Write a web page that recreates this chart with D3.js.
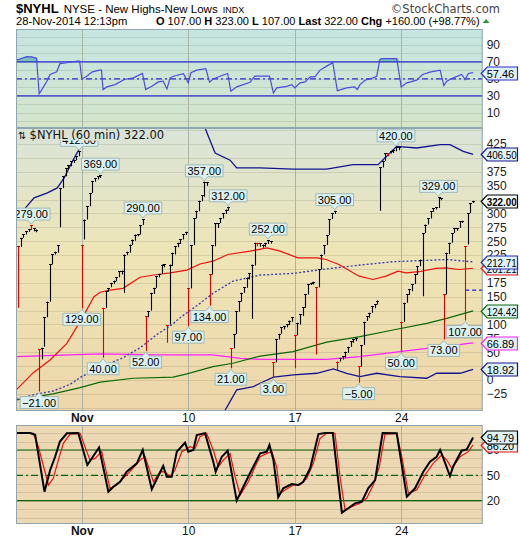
<!DOCTYPE html>
<html><head><meta charset="utf-8">
<script src="https://cdn.jsdelivr.net/npm/d3@7"></script>
<style>body{margin:0;background:#fff}svg{display:block}</style>
</head><body><svg id="c" width="520" height="540"></svg>
<script>
// ---------------- DATA ----------------
const tickIdx = [24, 64, 104, 144];
const tickText = ["Nov", "10", "17", "24"];
const mainTicks = [-25,0,25,50,75,100,125,150,175,200,225,250,275,300,325,350,375,400,425];
const rsiTicks = [10,30,50,70,90];
const stochTicks = [20,50,80];

const barLow = [
130,240,256,262,267,270,268,266,
-21,37,60,113,141,208,226,229,
275,346,367,379,385,391,396,403,
129,253,289,313,337,357,361,364,
40,130,159,167,173,178,185,190,
157,225,229,243,251,259,262,279,
52,113,125,155,166,185,191,203,
67,100,205,226,239,245,253,261,
97,165,243,291,304,322,330,350,
134,190,241,274,283,291,299,305,
21,57,83,123,141,157,166,181,
110,206,241,240,238,240,245,246,
3,32,73,83,91,95,99,105,
21,81,100,115,130,154,171,172,
46,167,199,226,243,261,290,299,
18,33,37,39,49,60,67,70,
-5,24,63,106,112,121,129,136,
305,383,395,403,408,409,412,414,
50,105,139,153,160,173,189,205,
151,265,280,291,303,307,310,324,
73,154,227,247,265,269,274,283,
107,244,301,319];
const barHigh = [
241,256,263,268,272,279,273,271,
56,58,113,141,209,227,231,243,
346,367,382,387,394,397,403,412,
243,289,313,337,358,363,367,369,
130,160,165,175,179,185,196,197,
226,231,244,253,262,263,279,290,
115,124,157,166,187,191,208,209,
99,208,229,241,247,254,263,267,
165,243,291,305,323,333,357,356,
191,243,283,283,292,301,307,312,
57,83,124,142,157,167,184,192,
208,247,247,246,244,247,252,250,
32,73,83,95,97,100,107,113,
81,103,118,131,154,172,175,177,
167,200,226,243,261,290,300,305,
33,40,43,51,60,70,74,75,
25,63,105,115,121,133,137,143,
383,395,409,409,413,415,420,419,
105,139,154,163,173,190,205,217,
265,280,292,304,309,311,329,328,
154,229,247,265,274,274,286,287,
241,301,319,323];
const lastClose = 322;
const prevClose = 162;
const redBars = [0,5,8,24,32,48,56,64,72,80,90,96,104,112,120,128,139,144,160,168];
const highLabelIdx = [5,23,31,47,70,79,94,119,142,158];
const lowLabelIdx = [8,24,32,48,64,72,80,96,128,144,160,168];

// overlays: [bar index, value]
const upperBand = [[2.3,307],[6.1,328],[11.1,337],[14.8,346],[17.4,364],[20.5,394],[23.6,421],[27.4,448],[31,480],[68,480],[70.3,454],[74.1,409],[79.7,396],[82.2,382],[91,382],[103.4,380],[116,380],[125.9,388],[135.3,388],[142.3,421],[149.8,418],[158.6,424],[162.3,424],[167.3,412],[171,406.5]];
const lowerBand = [[77.2,-60],[82.2,-18],[88.5,-12],[91,-6],[96,5],[103.5,9],[112.3,12],[118.5,20],[123.5,12],[128.5,6],[134.8,12],[143.5,6],[153.6,3],[157.3,12],[166.1,12],[171,18.92]];
const redMA = [[-0.4,-17],[5.7,12.6],[12.1,36],[18.4,66],[24,110],[28.6,150],[30.9,158],[34.6,162],[39.5,165],[45.9,185],[52.3,190],[57.2,193],[63.5,198],[68.4,209],[73.3,214],[78.9,226],[87.2,232],[93.6,238],[98.5,232],[105.2,220],[112.4,220],[115.8,217],[120.6,208],[128.2,187],[133.4,181],[138.3,187],[142.8,196],[145.8,193],[150.7,195],[157.1,201],[160.8,202],[165.7,199],[171,201.21]];
const slowMA = [[-0.4,-35],[5.7,-27],[13.2,-20],[19.6,-8],[23.6,5],[28.2,16],[36,33],[39.5,40],[45.9,58],[52.3,82],[58,100],[60.9,112],[68.4,138],[73.3,156],[80.8,178],[91,189],[103.4,192],[115.8,200],[128.5,207],[140.9,213],[161.2,217],[171,212.71]];
const greenMA = [[-0.4,-36],[13.2,-25],[23.4,-14],[30.9,-4],[43.3,3],[58.3,5],[63.5,11],[73.3,24],[80.8,30],[91,43],[103.4,51],[116,68],[128.5,78],[140.9,90],[153.6,102],[161.1,111],[171,124.42]];
const magentaMA = [[-0.4,42],[30.9,47],[52.2,45],[73.3,45],[83.5,39],[91,37],[116,37],[128.5,42],[143.5,51],[153.6,57],[161.1,61],[171,66.89]];

const rsi = [[-0.4,72.3],[3.3,76.3],[5.2,76],[7,74.3],[8,32.6],[9,37.4],[10.9,47.3],[12.1,55.2],[14.6,58.4],[15.8,68],[18.4,69.1],[22.3,71],[23.2,71],[24,50],[25.9,53.2],[27.8,58],[30.6,60.4],[31.4,60.4],[32,37.4],[33.4,40.6],[36.5,43.3],[40,49.3],[43.4,51.3],[46.8,56.4],[48,37.4],[50.3,41.3],[52.8,46.5],[54.6,47.3],[56,38.2],[57.2,51.3],[58.4,53.2],[62.2,56.1],[64,45.4],[65,57.3],[67.2,60.4],[70.6,62],[72,46.1],[73.4,50],[75.9,53.2],[78.8,56.4],[80,35.4],[82.2,40.6],[87.2,46.1],[89,53.2],[91,53.2],[94.5,53.2],[96,33.4],[97.2,39.4],[101,41.3],[102.9,43.3],[104,39.4],[106,45.4],[107.9,46.5],[109.8,52.5],[111.6,52.5],[113.5,60.4],[116,65.1],[118.3,69.1],[120,36.2],[123.5,39.4],[126.5,40.5],[127.5,37.4],[128.5,43.3],[130.4,48.5],[133.5,51.3],[134.8,53.2],[136,73.1],[136.7,73.9],[142.3,73.9],[144,40.6],[146.1,45.4],[149.8,48.5],[152,55.2],[154.8,58],[158.6,60.4],[160,42.1],[161.1,47.3],[163.6,51.3],[166.7,55.2],[168,49.3],[169.2,56.4],[171,57.46]];

const stochK = [[-0.4,100],[4.6,100],[6.5,98],[10,30.6],[12.1,56],[14,72],[15.8,90],[18.4,99.7],[22.7,100],[26.1,62.2],[30.5,83],[34,30.6],[35.9,36.5],[38.4,42.4],[40.9,54.3],[44.7,64.2],[46.9,80],[50.3,33.4],[54.6,61],[55.9,48.3],[57.8,48.3],[59.7,78],[62.8,88.6],[64,78],[65.9,80],[67.2,97.7],[70.3,100],[73.4,66.1],[74.3,54.3],[76.6,72],[78.8,79.2],[82.2,20],[84.7,36.5],[87.8,56.3],[91,76],[93.5,78],[94.5,85.9],[96,68],[97.8,24],[99.7,34.6],[102.9,39.7],[105.3,38.5],[107.2,42.4],[109.8,58.3],[112.9,98.9],[115.4,100],[118.3,100],[121.7,5.7],[124.1,11],[126.6,16.8],[129.2,18.7],[131.6,34.6],[134.2,44.4],[137,100],[142.3,99.7],[146.1,24.7],[149.2,34.6],[152.3,54.3],[154.8,66.1],[157.3,72],[158.6,80],[159.6,72],[162.3,49.2],[163.6,61],[166.7,79.2],[168.6,80.6],[171,94.79]];
const stochD = [[-0.4,100],[5.8,99.7],[7.7,83.8],[11.5,38.5],[13.3,46.4],[15.2,68],[17.1,87.9],[19.6,98.9],[23.4,99.7],[25.2,83.8],[27.1,68],[29,70],[31.5,78],[34.6,34.6],[37.1,38.5],[42.1,54.3],[45.9,68],[47.8,72],[50.9,42.4],[53.4,54.3],[55.3,54],[57.2,48.3],[59,56.3],[61.6,78],[64.7,83.8],[66.6,82],[68.4,95.7],[70.9,99.7],[73.4,80],[75.3,60.2],[77.2,68],[79.7,76],[81.6,48.3],[83.5,26.7],[86.6,42.4],[89.7,64.2],[91,72],[93.5,76],[95.4,78],[97.2,60.2],[98.5,28.7],[100.4,32.6],[103.5,38.5],[106,38.5],[108.5,46.4],[111,64.2],[113.5,93.8],[116,99.7],[119.1,99.7],[121,48.3],[122.9,9],[125.4,12.8],[128.5,16.8],[131,22.8],[133.5,38.5],[135.8,60.2],[137.9,98.9],[142.3,99.7],[144.2,72],[146.7,28.7],[149.8,32.6],[152.9,50.4],[156,64.2],[159.2,74],[161.1,68],[163,58.3],[166.1,72],[169.2,78],[171,86.2]];

// ---------------- LAYOUT ----------------
const svg = d3.select("#c");
const L = 16, R = 482.7;
const rsiTop = 29, rsiBot = 128, mainTop = 128, mainBot = 411, stTop = 425, stBot = 524;
const x = d3.scaleLinear().domain([-0.7, 174.6]).range([L, R]);
const yM = d3.scaleLinear().domain([-56, 454]).range([mainBot, mainTop]);
const yR = d3.scaleLinear().domain([-7.9, 108.9]).range([rsiBot, rsiTop]);
const yS = d3.scaleLinear().domain([-7.7, 109.6]).range([stBot, stTop]);
const FONT = "'Liberation Sans', Arial, sans-serif";
const f2 = d3.format(".2f");
const lastOf = a => a[a.length-1][1];

const defs = svg.append("defs");
function grad(id, stops){
  const g = defs.append("linearGradient").attr("id", id).attr("x1",0).attr("y1",0).attr("x2",0).attr("y2",1);
  stops.forEach(s => g.append("stop").attr("offset", s[0]).attr("stop-color", s[1]));
}
grad("gR", [[0,"#c6e5e1"],[1,"#d5e5cb"]]);
grad("gM", [[0,"#d9e4d8"],[0.45,"#eee5b6"],[1,"#edd6aa"]]);
function clip(id, y0, y1){
  defs.append("clipPath").attr("id", id).append("rect").attr("x", L).attr("y", y0).attr("width", R-L).attr("height", y1-y0);
}
clip("cR", rsiTop, rsiBot); clip("cM", mainTop, mainBot); clip("cS", stTop, stBot);

// Header
const hd = svg.append("g").attr("font-family", FONT).attr("fill", "#000");
const t1 = hd.append("text").attr("x", 16).attr("y", 13);
t1.append("tspan").attr("font-weight", "bold").attr("font-size", 13).text("$NYHL");
t1.append("tspan").attr("font-size", 11.5).attr("dx", 5).text("NYSE - New Highs-New Lows");
t1.append("tspan").attr("font-size", 9).attr("dx", 5).text("INDX");
hd.append("text").attr("x", 500).attr("y", 13).attr("text-anchor", "end").attr("font-size", 11.5)
  .attr("font-family", "'DejaVu Sans', sans-serif").attr("fill", "#444").text("\u00A9StockCharts.com");
const t2 = hd.append("text").attr("x", 16).attr("y", 25).attr("font-size", 11.2);
t2.append("tspan").text("28-Nov-2014 12:13pm");
const parts = [["O",true],[" 107.00 ",false],["H",true],[" 323.00 ",false],["L",true],[" 107.00 ",false],["Last",true],[" 322.00 ",false],["Chg",true],[" +160.00 (+98.77%)",false]];
const t3 = hd.append("text").attr("x", 156).attr("y", 25).attr("font-size", 11).attr("xml:space","preserve");
parts.forEach(p => t3.append("tspan").attr("font-weight", p[1] ? "bold" : "normal").text(p[0]));
const t3end = 156 + t3.node().getComputedTextLength();
hd.append("path").attr("d", `M${t3end+3},23 L${t3end+10},23 L${t3end+6.5},19 Z`).attr("fill", "#2a9a2a");

// Panel backgrounds
svg.append("rect").attr("x", L).attr("y", rsiTop).attr("width", R-L).attr("height", rsiBot-rsiTop).attr("fill", "url(#gR)");
svg.append("rect").attr("x", L).attr("y", mainTop).attr("width", R-L).attr("height", mainBot-mainTop).attr("fill", "url(#gM)");
svg.append("rect").attr("x", L).attr("y", stTop).attr("width", R-L).attr("height", stBot-stTop).attr("fill", "#edd8b4");

// Gridlines
function hgrid(vals, ys, col){
  svg.append("g").selectAll("line").data(vals).join("line")
    .attr("x1", L).attr("x2", R).attr("y1", d => Math.round(ys(d))+0.5).attr("y2", d => Math.round(ys(d))+0.5)
    .attr("stroke", col).attr("stroke-width", 1);
}
hgrid(d3.range(0, 101, 10), yR, "rgba(110,140,120,0.22)");
hgrid(d3.range(-50, 451, 25), yM, "rgba(120,120,90,0.2)");
hgrid(d3.range(0, 101, 10), yS, "rgba(120,110,90,0.2)");
[[rsiTop,rsiBot],[mainTop,mainBot],[stTop,stBot]].forEach(p => {
  svg.append("g").selectAll("line").data(tickIdx).join("line")
    .attr("x1", d => Math.round(x(d))+0.5).attr("x2", d => Math.round(x(d))+0.5)
    .attr("y1", p[0]).attr("y2", p[1]).attr("stroke", "#a9b4a6").attr("stroke-width", 1);
});

// ---------------- RSI PANEL ----------------
const gR = svg.append("g").attr("clip-path", "url(#cR)");
const lineR = d3.line().x(d => x(d[0])).y(d => yR(d[1]));
const areaR = d3.area().x(d => x(d[0])).y0(yR(70)).y1(d => yR(Math.max(70, d[1])));
gR.append("path").attr("d", areaR(rsi)).attr("fill", "#6cbab2").attr("opacity", 0.85);
[70, 30].forEach(v => gR.append("line").attr("x1", L).attr("x2", R).attr("y1", yR(v)).attr("y2", yR(v)).attr("stroke", "#2b2bd0").attr("stroke-width", 1.2));
gR.append("line").attr("x1", L).attr("x2", R).attr("y1", yR(50)).attr("y2", yR(50)).attr("stroke", "#2b2bd0").attr("stroke-width", 1.2).attr("stroke-dasharray", "6,3,2,3");
gR.append("path").attr("d", lineR(rsi)).attr("fill", "none").attr("stroke", "#4b4be0").attr("stroke-width", 1.2);

// ---------------- MAIN PANEL ----------------
const gM = svg.append("g").attr("clip-path", "url(#cM)");
const lineM = d3.line().x(d => x(d[0])).y(d => yM(d[1]));
gM.append("path").attr("d", lineM(magentaMA)).attr("fill", "none").attr("stroke", "#ff20ff").attr("stroke-width", 1.3);
gM.append("path").attr("d", lineM(greenMA)).attr("fill", "none").attr("stroke", "#0a6a0a").attr("stroke-width", 1.2);
gM.append("path").attr("d", lineM(slowMA)).attr("fill", "none").attr("stroke", "#4040b0").attr("stroke-width", 1.4).attr("stroke-dasharray", "2,2");
gM.append("path").attr("d", lineM(redMA)).attr("fill", "none").attr("stroke", "#ee1010").attr("stroke-width", 1.2);
gM.append("path").attr("d", lineM(upperBand)).attr("fill", "none").attr("stroke", "#141490").attr("stroke-width", 1.3);
gM.append("path").attr("d", lineM(lowerBand)).attr("fill", "none").attr("stroke", "#141490").attr("stroke-width", 1.3);
gM.append("line").attr("x1", x(168)).attr("x2", R).attr("y1", yM(prevClose)).attr("y2", yM(prevClose))
  .attr("stroke", "#1a1aff").attr("stroke-width", 1.2).attr("stroke-dasharray", "4,3");

// bars
const bars = barLow.map((lo, i) => ({i, lo, hi: barHigh[i], red: redBars.includes(i)}));
const gB = gM.append("g");
bars.forEach(b => {
  const xx = Math.round(x(b.i)) + 0.5;
  const col = b.red ? "#e00000" : "#000";
  gB.append("line").attr("x1", xx).attr("x2", xx).attr("y1", yM(b.lo)).attr("y2", yM(b.hi)).attr("stroke", col).attr("stroke-width", 1.1);
  gB.append("line").attr("x1", xx-1.5).attr("x2", xx+1.5).attr("y1", Math.round(yM(b.hi))+0.5).attr("y2", Math.round(yM(b.hi))+0.5).attr("stroke", col).attr("stroke-width", 1);
});

// value callouts
function callout(i, v, up){
  const cx = x(i);
  const txt = f2(v);
  const g = gM.append("g");
  const t = g.append("text").attr("font-family", FONT).attr("font-size", 11).attr("text-anchor", "middle").text(txt);
  const w = t.node().getComputedTextLength() + 4, h = 12;
  let tip, by;
  if (up) { tip = yM(v) - 1; by = tip - 4 - h; }
  else { tip = yM(v) + 1; by = tip + 4; }
  const bx = cx - w/2;
  const pth = up
    ? `M${bx},${by} H${bx+w} V${by+h} H${cx+3.5} L${cx},${tip} L${cx-3.5},${by+h} H${bx} Z`
    : `M${bx},${by} H${cx-3.5} L${cx},${tip} L${cx+3.5},${by} H${bx+w} V${by+h} H${bx} Z`;
  g.insert("path", "text").attr("d", pth).attr("fill", "#dcf1ef").attr("stroke", "#9fb9b7").attr("stroke-width", 1);
  t.attr("x", cx).attr("y", by + h - 2);
}
highLabelIdx.forEach(i => callout(i, barHigh[i], true));
lowLabelIdx.forEach(i => callout(i, barLow[i], false));

// legend
gM.append("rect").attr("x", L+0.5).attr("y", mainTop+0.5).attr("width", 150).attr("height", 12).attr("fill", "#d9e4d8");
const lg = gM.append("text").attr("x", 18).attr("y", 138.5).attr("font-family", "'DejaVu Sans', sans-serif").attr("font-size", 11.5).attr("fill", "#111");
lg.append("tspan").attr("font-size", 10).text("\u21C5 ");
lg.append("tspan").text("$NYHL (60 min) " + f2(lastClose));

// ---------------- STOCH PANEL ----------------
const gS = svg.append("g").attr("clip-path", "url(#cS)");
const lineS = d3.line().x(d => x(d[0])).y(d => yS(d[1]));
[80, 20].forEach(v => gS.append("line").attr("x1", L).attr("x2", R).attr("y1", yS(v)).attr("y2", yS(v)).attr("stroke", "#0d620d").attr("stroke-width", 1.2));
gS.append("line").attr("x1", L).attr("x2", R).attr("y1", yS(50)).attr("y2", yS(50)).attr("stroke", "#0d620d").attr("stroke-width", 1.2).attr("stroke-dasharray", "7,3,2,3");
gS.append("path").attr("d", lineS(stochD)).attr("fill", "none").attr("stroke", "#f01010").attr("stroke-width", 1.2);
gS.append("path").attr("d", lineS(stochK)).attr("fill", "none").attr("stroke", "#000").attr("stroke-width", 2);

// Panel borders
[[rsiTop,rsiBot],[mainTop,mainBot],[stTop,stBot]].forEach(p => {
  svg.append("rect").attr("x", L+0.5).attr("y", p[0]+0.5).attr("width", R-L-1).attr("height", p[1]-p[0]-1)
    .attr("fill", "none").attr("stroke", "#8fa6ae").attr("stroke-width", 1);
});

// ---------------- TAG DEFINITIONS ----------------
const rsiTags = [[lastOf(rsi), "#2b2bd0", false]];
const mainTags = [
  [lastOf(upperBand), "#141490", false],
  [lastClose, "#000", true],
  [lastOf(redMA), "#ee1010", false],
  [lastOf(slowMA), "#2b2bb0", false],
  [lastOf(greenMA), "#0a6a0a", false],
  [lastOf(magentaMA), "#ff20ff", false],
  [lastOf(lowerBand), "#141490", false]];
const stochTags = [[lastOf(stochD), "#f01010", false], [lastOf(stochK), "#000", false]];

// ---------------- AXES ----------------
function rightAxis(scale, ticks, tags){
  const tagYs = tags.map(t => scale(t[0]));
  const shown = ticks.filter(v => tagYs.every(ty => Math.abs(scale(v) - ty) > 4));
  const ax = d3.axisRight(scale).tickValues(shown).tickSize(0).tickPadding(4).tickFormat(d3.format("d"));
  const g = svg.append("g").attr("transform", `translate(${R},0)`).call(ax);
  g.select(".domain").remove();
  g.selectAll("text").attr("font-family", FONT).attr("font-size", 12).attr("fill", "#222");
}
rightAxis(yR, rsiTicks, rsiTags);
rightAxis(yM, mainTicks, mainTags);
rightAxis(yS, stochTicks, stochTags);

function bottomAxis(yPos){
  const ax = d3.axisBottom(x).tickValues(tickIdx).tickSize(0).tickPadding(0).tickFormat((d, k) => tickText[k]);
  const g = svg.append("g").attr("transform", `translate(0,${yPos})`).call(ax);
  g.select(".domain").remove();
  g.selectAll("text").attr("font-family", FONT).attr("font-size", 12).attr("fill", "#111")
    .attr("font-weight", (d, k) => k === 0 ? "bold" : "normal").attr("dy", 0);
}
bottomAxis(mainBot + 11);
bottomAxis(stBot + 11);

// value tags on the right
function tag(yv, txt, stroke, bold){
  const y = Math.round(yv) + 0.5;
  const g = svg.append("g");
  g.append("path").attr("d", `M${R-1.5},${y} L${R+4.5},${y-6.5} H517.5 V${y+6.5} H${R+4.5} Z`)
    .attr("fill", bold ? "#f4fbfb" : "#dff3f7").attr("stroke", stroke).attr("stroke-width", 1.2);
  const t = g.append("text").attr("x", R+4).attr("y", y+4).attr("font-family", FONT).attr("font-size", 11)
    .attr("font-weight", bold ? "bold" : "normal").attr("fill", "#000").text(txt);
  const w = t.node().getComputedTextLength();
  if (w > 30) t.attr("textLength", 30).attr("lengthAdjust", "spacingAndGlyphs");
}
rsiTags.forEach(t => tag(yR(t[0]), f2(t[0]), t[1], t[2]));
[6,5,4,2,3,1,0].forEach(k => { const t = mainTags[k]; tag(yM(t[0]), f2(t[0]), t[1], t[2]); });
stochTags.forEach(t => tag(yS(t[0]), f2(t[0]), t[1], t[2]));
</script></body></html>
